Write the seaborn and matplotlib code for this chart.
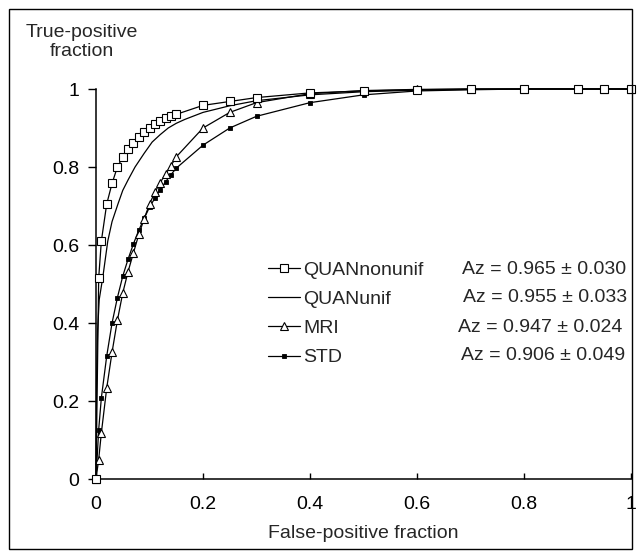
import matplotlib
matplotlib.use("Agg")
import matplotlib.pyplot as plt
from matplotlib.lines import Line2D
from matplotlib.patches import Rectangle
import seaborn as sns

# ROC operating points (false-positive fraction, true-positive fraction)
fpf_grid = [0, 0.005, 0.01, 0.02, 0.03, 0.04, 0.05, 0.06, 0.07, 0.08, 0.09,
            0.10, 0.11, 0.12, 0.13, 0.14, 0.15, 0.2, 0.25, 0.3, 0.4, 0.5,
            0.6, 0.7, 0.8, 0.9, 0.95, 1.0]

tpf_quan_nonunif = [0, 0.515, 0.61, 0.705, 0.758, 0.80, 0.825, 0.846, 0.862,
                    0.877, 0.89, 0.90, 0.91, 0.918, 0.925, 0.93, 0.935, 0.958,
                    0.968, 0.978, 0.99, 0.995, 0.998, 1.0, 1.0, 1.0, 1.0, 1.0]

tpf_mri = [0, 0.05, 0.118, 0.233, 0.325, 0.407, 0.477, 0.532, 0.58, 0.627,
           0.667, 0.705, 0.735, 0.76, 0.782, 0.803, 0.826, 0.90, 0.94, 0.965,
           0.988, 0.996, 0.999, 1.0, 1.0, 1.0, 1.0, 1.0]

tpf_std = [0, 0.126, 0.208, 0.315, 0.40, 0.465, 0.52, 0.564, 0.603, 0.638,
           0.668, 0.697, 0.72, 0.742, 0.762, 0.78, 0.797, 0.856, 0.90, 0.93,
           0.965, 0.985, 0.995, 0.998, 1.0, 1.0, 1.0, 1.0]

# Fitted curve for the uniform quantitative reading (no markers)
fpf_quan_unif = [0, 0.001, 0.003, 0.006, 0.013, 0.022, 0.03, 0.041, 0.05,
                 0.06, 0.073, 0.09, 0.105, 0.12, 0.135, 0.15, 0.166, 0.2,
                 0.25, 0.3, 0.4, 0.5, 0.6, 0.7, 0.8, 0.9, 1.0]
tpf_quan_unif = [0, 0.25, 0.38, 0.46, 0.52, 0.61, 0.66, 0.705, 0.74, 0.767,
                 0.80, 0.835, 0.864, 0.883, 0.90, 0.912, 0.922, 0.94, 0.957,
                 0.97, 0.985, 0.993, 0.997, 0.999, 1.0, 1.0, 1.0]

series_names = ["QUANnonunif", "QUANunif", "MRI", "STD"]
az_labels = ["Az = 0.965 \u00b1 0.030", "Az = 0.955 \u00b1 0.033",
             "Az = 0.947 \u00b1 0.024", "Az = 0.906 \u00b1 0.049"]
tick_values = [0, 0.2, 0.4, 0.6, 0.8, 1]
tick_labels = ["0", "0.2", "0.4", "0.6", "0.8", "1"]

sns.set_style("white")
plt.rcParams["font.family"] = ["Liberation Sans", "DejaVu Sans"]
FS = 14

fig = plt.figure(figsize=(6.4, 5.58), dpi=100)
ax = fig.add_axes([96 / 640, 1 - 479 / 558, 535 / 640, 390 / 558])

styles = {
    "QUANnonunif": dict(marker="s", markersize=5.2, markerfacecolor="white",
                        markeredgecolor="black", markeredgewidth=0.8),
    "QUANunif": dict(marker=None),
    "MRI": dict(marker="^", markersize=6.0, markerfacecolor="white",
                markeredgecolor="black", markeredgewidth=0.8),
    "STD": dict(marker="s", markersize=3.0, markerfacecolor="black",
                markeredgecolor="black", markeredgewidth=0.6),
}

curves = {
    "QUANnonunif": (fpf_grid, tpf_quan_nonunif),
    "QUANunif": (fpf_quan_unif, tpf_quan_unif),
    "MRI": (fpf_grid, tpf_mri),
    "STD": (fpf_grid, tpf_std),
}

for name in ["QUANunif", "STD", "MRI", "QUANnonunif"]:
    xs, ys = curves[name]
    sns.lineplot(x=xs, y=ys, ax=ax, color="black", linewidth=0.9,
                 sort=False, estimator=None, clip_on=False, zorder=3,
                 **styles[name])

ax.set_xlim(0, 1)
ax.set_ylim(0, 1)
ax.set_xticks(tick_values)
ax.set_xticklabels(tick_labels)
ax.set_yticks(tick_values)
ax.set_yticklabels(tick_labels)
ax.tick_params(axis="x", direction="in", length=4, width=1, pad=12,
               labelsize=FS, colors="black", bottom=True)
ax.tick_params(axis="y", direction="out", length=6, width=1, pad=6,
               labelsize=FS, colors="black", left=True)

for side in ["top", "right"]:
    ax.spines[side].set_visible(False)
for side in ["left", "bottom"]:
    ax.spines[side].set_color("black")
    ax.spines[side].set_linewidth(1.1)

ax.set_xlabel("False-positive fraction", fontsize=FS, labelpad=9)
fig.text(82 / 640, 1 - 42 / 558, "True-positive\nfraction", ha="center",
         va="center", fontsize=FS, linespacing=1.1)

handles = [
    Line2D([], [], color="black", linewidth=0.9, **styles[n]) for n in series_names
]
ax.legend(handles, series_names, loc="upper left",
          bbox_to_anchor=((268 - 96) / 535, (479 - 261) / 390),
          frameon=False, fontsize=FS, handlelength=1.65, handletextpad=0.15,
          labelspacing=0.6, borderpad=0, borderaxespad=0)

row_y = [269, 298, 327, 356]
row_x = [462, 463, 458, 461]
for label, px, py in zip(az_labels, row_x, row_y):
    ax.text((px - 96) / 535, (479 - py) / 390, label, transform=ax.transAxes,
            ha="left", va="center", fontsize=FS)

# outer frame around the whole figure
fig.patches.append(Rectangle((9 / 640, 9 / 558), 623 / 640, 540 / 558,
                             transform=fig.transFigure, fill=False,
                             edgecolor="black", linewidth=1.0))

fig.savefig("out.png", dpi=100)
